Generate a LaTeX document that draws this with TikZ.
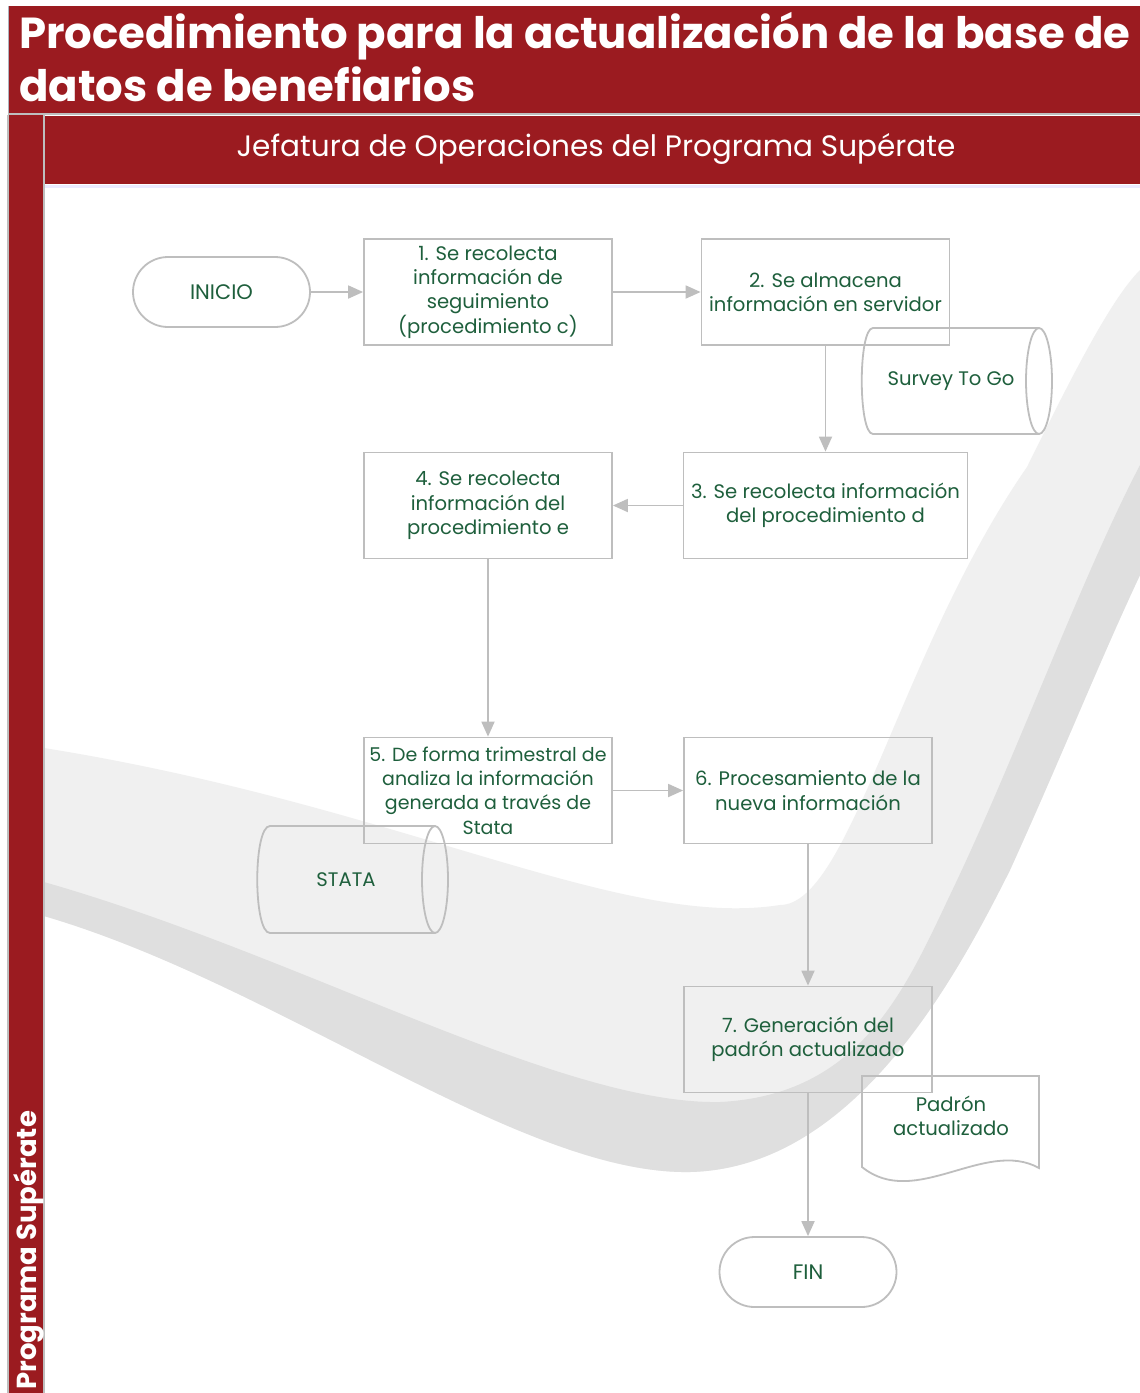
\documentclass[tikz,border=0pt]{standalone}
\usepackage{fontspec}
\setmainfont{Poppins}
\usetikzlibrary{arrows.meta}
\definecolor{bandred}{RGB}{155,27,32}
\definecolor{txtgreen}{RGB}{30,95,60}
\definecolor{linegray}{RGB}{190,190,190}
\definecolor{framegray}{RGB}{175,180,190}
\definecolor{swlight}{RGB}{240,240,240}
\definecolor{swdark}{RGB}{223,223,223}
\tikzset{
  outl/.style={draw=linegray, line width=1.8pt},
  stepbox/.style={outl, text=txtgreen, align=center, inner sep=0pt,
    font=\fontsize{19.6}{24.3}\selectfont, minimum width=248pt, minimum height=106pt},
  term/.style={outl, text=txtgreen, align=center, inner sep=0pt, rounded corners=35pt,
    font=\fontsize{21}{24}\selectfont, minimum width=177pt, minimum height=70pt},
  lbl/.style={text=txtgreen, align=center, inner sep=0pt, font=\fontsize{19.6}{24.3}\selectfont},
  arr/.style={draw=linegray, line width=1.8pt, -{Triangle[length=15pt,width=13pt]}},
}
\begin{document}
\begin{tikzpicture}[x=1pt,y=-1pt]
\useasboundingbox (0,0) rectangle (1140,1393);
\fill[white] (0,0) rectangle (1140,1393);
% swoosh
\begin{scope}
\clip (44,184) rectangle (1140,1393);
\fill[swlight] (44,748) .. controls (400,805) and (620,930) .. (780,905)
  .. controls (850,905) and (900,650) .. (1027,467)
  .. controls (1070,380) and (1110,300) .. (1140,270)
  -- (1140,575)
  .. controls (1100,660) and (1060,760) .. (1010,870)
  .. controls (950,990) and (850,1168) .. (690,1172)
  .. controls (520,1175) and (280,985) .. (44,916) -- cycle;
\fill[swdark] (44,882) .. controls (300,955) and (560,1105) .. (720,1102)
  .. controls (860,1095) and (905,990) .. (950,895)
  .. controls (1015,760) and (1080,580) .. (1140,465)
  -- (1140,575)
  .. controls (1100,660) and (1060,760) .. (1010,870)
  .. controls (950,990) and (850,1168) .. (690,1172)
  .. controls (520,1175) and (280,985) .. (44,916) -- cycle;
\end{scope}
% bands
\fill[bandred] (8,6) rectangle (1140,113);
\draw[framegray, line width=1pt] (8,6) -- (8,113);
\draw[linegray, line width=1.5pt] (8,114) -- (1140,114);
\fill[bandred] (9,115) rectangle (43,1393);
\draw[linegray, line width=1.5pt] (8,115) -- (8,1393);
\draw[linegray, line width=1.5pt] (44,115) -- (44,1393);
\fill[bandred] (45,116) rectangle (1140,184);
\draw[blue!8, line width=3pt] (45,186) -- (1140,186);
\node[anchor=base west, text=white, inner sep=0pt, font=\fontsize{43.4}{45}\selectfont\bfseries] (t1) at (19,48) {Procedimiento para la actualización de la base de};
\node[anchor=base west, text=white, inner sep=0pt, font=\fontsize{43.4}{45}\selectfont\bfseries] (t2) at (19,101) {datos de benefiarios};
\node[text=white, inner sep=0pt, font=\fontsize{29.5}{32}\selectfont] (lane) at (596,149) {Jefatura de Operaciones del Programa Supérate};
\node[rotate=90, anchor=base west, text=white, inner sep=0pt, font=\fontsize{27.5}{30}\selectfont\bfseries] (pool) at (36,1390) {Programa Supérate};
% nodes
\node[term] (inicio) at (221.5,292) {INICIO};
\node[stepbox] (b1) at (488,292) {1. Se recolecta\\información de\\seguimiento\\(procedimiento c)};
\node[stepbox] (b2) at (825.5,292) {2. Se almacena\\información en servidor};
\node[stepbox, minimum width=284pt] (b3) at (825.5,505.5) {3. Se recolecta información\\del procedimiento d};
\node[stepbox] (b4) at (488,505.5) {4. Se recolecta\\información del\\procedimiento e};
\node[stepbox, font=\fontsize{19}{24.3}\selectfont] (b5) at (488,790.5) {5. De forma trimestral de\\analiza la información\\generada a través de\\Stata};
\node[stepbox] (b6) at (808,790.5) {6. Procesamiento de la\\nueva información};
\node[stepbox] (b7) at (808,1039.5) {7. Generación del\\padrón actualizado};
\node[term] (fin) at (808,1272) {FIN};
% Survey To Go cylinder
\draw[outl] (1039,328) -- (873,328) .. controls (858,328) and (858,434) .. (873,434) -- (1039,434);
\draw[outl] (1039,381) ellipse [x radius=13pt, y radius=53pt];
\node[lbl] (survey) at (951,381) {Survey To Go};
% STATA cylinder
\draw[outl] (435,826) -- (270,826) .. controls (253,826) and (253,933) .. (270,933) -- (435,933);
\draw[outl] (435,879.5) ellipse [x radius=13pt, y radius=53.5pt];
\node[lbl] (stata) at (346,880) {STATA};
% document
\draw[outl] (862,1167) -- (862,1076) -- (1039,1076) -- (1039,1168)
  .. controls (985,1138) and (915,1210) .. (862,1167) -- cycle;
\node[lbl] (padron) at (951,1116) {Padrón\\actualizado};
% connectors
\draw[arr] (inicio) -- (b1);
\draw[arr] (b1) -- (b2);
\draw[arr] (b2) -- (b3);
\draw[arr] (b3) -- (b4);
\draw[arr] (b4) -- (b5);
\draw[arr] (b5) -- (b6);
\draw[arr] (b6) -- (b7);
\draw[arr] (b7) -- (fin);
\end{tikzpicture}
\end{document}
